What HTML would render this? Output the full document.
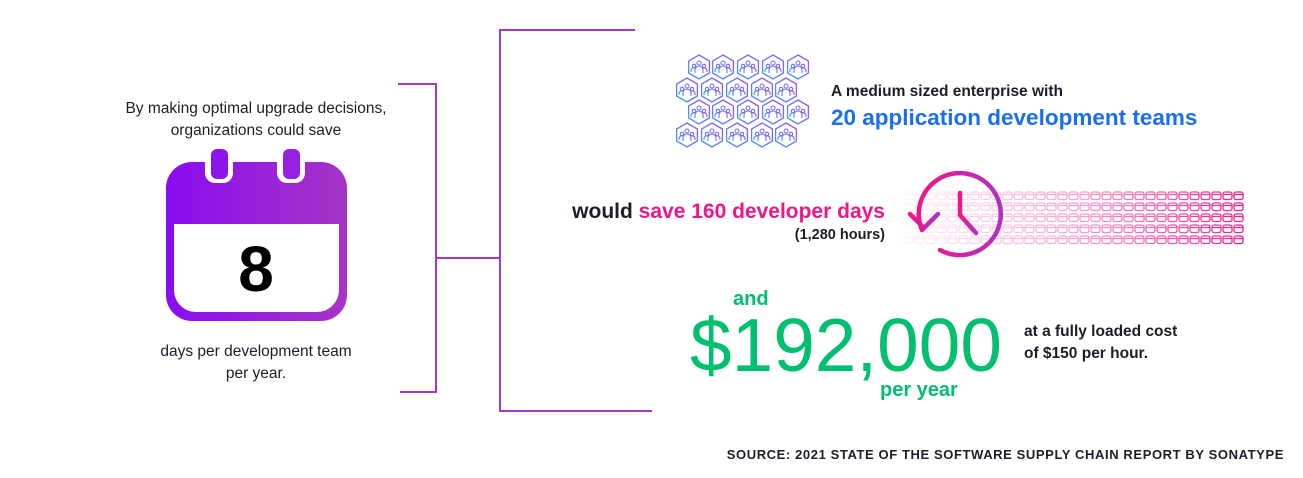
<!DOCTYPE html>
<html><head><meta charset="utf-8"><style>
html,body{margin:0;padding:0;background:#fff;}
body{width:1303px;height:473px;overflow:hidden;}
svg text{font-family:"Liberation Sans",Arial,sans-serif;}
</style></head><body>
<svg width="1303" height="473" viewBox="0 0 1303 473" xmlns="http://www.w3.org/2000/svg">
<defs>
<linearGradient id="cal" x1="0" x2="1" y1="0" y2="0"><stop offset="0" stop-color="#8a0cf0"/><stop offset="1" stop-color="#a534c6"/></linearGradient>
<linearGradient id="hexg" x1="0" y1="1" x2="1" y2="0"><stop offset="0" stop-color="#3a9bff"/><stop offset="1" stop-color="#9b4ef0"/></linearGradient>
<linearGradient id="clk" x1="0" x2="1"><stop offset="0" stop-color="#f0168a"/><stop offset="1" stop-color="#b030c0"/></linearGradient>
<symbol id="hex" viewBox="-12 -13 24 26" overflow="visible">
<polygon points="0,-12 10.4,-6 10.4,6 0,12 -10.4,6 -10.4,-6" fill="none" stroke="url(#hexg)" stroke-width="1.3"/>
<g fill="none" stroke="url(#hexg)" stroke-width="1.1">
<circle cx="0" cy="-4" r="2"/><circle cx="-5" cy="-1" r="1.7"/><circle cx="5" cy="-1" r="1.7"/>
<path d="M-4 6 v-3 a4 4 0 0 1 8 0 v3 M-8 5 v-1.5 a3 3 0 0 1 4-2.5 M8 5 v-1.5 a3 3 0 0 0 -4-2.5"/>
</g></symbol>
<pattern id="cp" x="903" y="190" width="11" height="11" patternUnits="userSpaceOnUse">
<rect x="1" y="2" width="9" height="7.5" rx="2" fill="none" stroke="#f0168a" stroke-width="1.3"/>
<line x1="1" y1="4.5" x2="10" y2="4.5" stroke="#f0168a" stroke-width="1.3"/>
</pattern>
<linearGradient id="fade" x1="0" x2="1"><stop offset="0" stop-color="#fff" stop-opacity="0.03"/><stop offset="0.5" stop-color="#fff" stop-opacity="0.4"/><stop offset="1" stop-color="#fff" stop-opacity="1"/></linearGradient>
<mask id="fm"><rect x="900" y="185" width="350" height="60" fill="url(#fade)"/></mask>
</defs>

<g stroke="#a238c9" stroke-width="2" fill="none">
<path d="M398 84 H436 V392 H400"/>
<path d="M436 258 H500"/>
<path d="M635 30 H500 V411 H652"/>
</g>

<text x="256" y="113" text-anchor="middle" font-size="15.5" fill="#1d1d2b">By making optimal upgrade decisions,</text>
<text x="256" y="135" text-anchor="middle" font-size="15.5" fill="#1d1d2b">organizations could save</text>
<text x="256" y="356" text-anchor="middle" font-size="15.5" fill="#1d1d2b">days per development team</text>
<text x="256" y="378" text-anchor="middle" font-size="15.5" fill="#1d1d2b">per year.</text>

<rect x="166" y="162" width="181" height="159" rx="26" fill="url(#cal)"/>
<path d="M174 224 H339 V290 a22 22 0 0 1 -22 22 H196 a22 22 0 0 1 -22 -22 Z" fill="#fff"/>
<rect x="205" y="146" width="28" height="37" rx="10" fill="#fff"/>
<rect x="277" y="146" width="28" height="37" rx="10" fill="#fff"/>
<rect x="211" y="149" width="17" height="30" rx="6" fill="#8e14ec"/>
<rect x="283" y="149" width="17" height="30" rx="6" fill="#9820e0"/>
<text x="256" y="291" text-anchor="middle" font-size="64" font-weight="bold" fill="#000">8</text>

<g>
<use href="#hex" x="687" y="54" width="24" height="26"/><use href="#hex" x="711" y="54" width="24" height="26"/><use href="#hex" x="736" y="54" width="24" height="26"/><use href="#hex" x="761" y="54" width="24" height="26"/><use href="#hex" x="786" y="54" width="24" height="26"/>
<use href="#hex" x="675" y="77" width="24" height="26"/><use href="#hex" x="700" y="77" width="24" height="26"/><use href="#hex" x="725" y="77" width="24" height="26"/><use href="#hex" x="750" y="77" width="24" height="26"/><use href="#hex" x="774" y="77" width="24" height="26"/>
<use href="#hex" x="687" y="99" width="24" height="26"/><use href="#hex" x="711" y="99" width="24" height="26"/><use href="#hex" x="736" y="99" width="24" height="26"/><use href="#hex" x="761" y="99" width="24" height="26"/><use href="#hex" x="786" y="99" width="24" height="26"/>
<use href="#hex" x="675" y="122" width="24" height="26"/><use href="#hex" x="700" y="122" width="24" height="26"/><use href="#hex" x="725" y="122" width="24" height="26"/><use href="#hex" x="750" y="122" width="24" height="26"/><use href="#hex" x="774" y="122" width="24" height="26"/>
</g>
<text x="831" y="96" font-size="15.5" font-weight="bold" fill="#1d1d2b">A medium sized enterprise with</text>
<text x="831" y="125" font-size="22.5" font-weight="bold" fill="#1a6ff0">20 application development teams</text>

<rect x="903" y="190" width="341" height="55" fill="url(#cp)" mask="url(#fm)"/>
<g fill="none" stroke="url(#clk)" stroke-width="4.5" stroke-linecap="round">
<path d="M922 230 A41 41 0 1 1 940 250"/>
<path d="M910 214 L924 228 L938 214"/>
<path d="M960 193 V215 L976 233"/>
</g>

<text x="885" y="218" text-anchor="end" font-size="21" font-weight="bold" fill="#f0168a"><tspan fill="#1d1d2b">would </tspan>save 160 developer days</text>
<text x="885" y="239" text-anchor="end" font-size="14.5" font-weight="bold" fill="#1d1d2b">(1,280 hours)</text>

<text x="733" y="305" font-size="20" font-weight="bold" fill="#00bf6f">and</text>
<text x="690" y="371" font-size="75" textLength="312" lengthAdjust="spacingAndGlyphs" fill="#00bf6f">$192,000</text>
<text x="880" y="396" font-size="20" font-weight="bold" fill="#00bf6f">per year</text>
<text x="1024" y="336" font-size="15.5" font-weight="bold" fill="#1d1d2b">at a fully loaded cost</text>
<text x="1024" y="358" font-size="15.5" font-weight="bold" fill="#1d1d2b">of $150 per hour.</text>

<text x="1284" y="459" text-anchor="end" font-size="13" font-weight="bold" letter-spacing="0.6" fill="#1d1d2b">SOURCE: 2021 STATE OF THE SOFTWARE SUPPLY CHAIN REPORT BY SONATYPE</text>
</svg>
</body></html>
